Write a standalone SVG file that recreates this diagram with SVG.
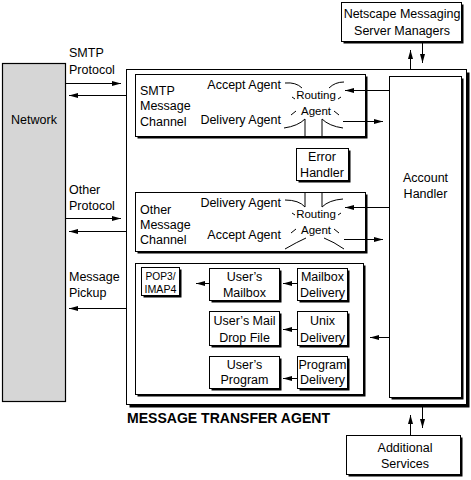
<svg xmlns="http://www.w3.org/2000/svg" width="471" height="480" viewBox="0 0 471 480">
<defs>
<style>
text{font-family:"Liberation Sans",Arial,sans-serif;font-size:12.5px;fill:#000}
.c{text-anchor:middle}
.e{text-anchor:end}
.sm{font-size:11.5px}
.xs{font-size:11px}
.title{font-weight:bold;font-size:14px}
.box{fill:#fff;stroke:#000;stroke-width:1}
.sh{fill:#000}
.net{fill:#d6d6d6;stroke:#000;stroke-width:1.2}
.ln{fill:none;stroke:#000;stroke-width:1}
.ar{fill:none;stroke:#000;stroke-width:1;marker-end:url(#ah)}
</style>
<marker id="ah" markerWidth="10" markerHeight="7" refX="9" refY="3.5" orient="auto" markerUnits="userSpaceOnUse">
<path d="M0,1 L9,3.5 L0,6 z" fill="#000"/>
</marker>
</defs>

<g id="network">
<rect class="net" x="2.5" y="63.5" width="63" height="338"/>
<text class="c" x="34" y="124">Network</text>
</g>

<g id="mta">
<rect class="sh" x="129.5" y="72.5" width="340" height="335"/>
<rect class="box" x="126.5" y="69.5" width="340" height="335"/>
<text class="title" x="127" y="423" textLength="203" lengthAdjust="spacingAndGlyphs">MESSAGE TRANSFER AGENT</text>
</g>

<g id="netscape-managers">
<rect class="sh" x="343.5" y="4.5" width="120" height="39"/>
<rect class="box" x="341.5" y="2.5" width="120" height="39"/>
<text class="c" x="402" y="18">Netscape Messaging</text>
<text class="c" x="402" y="35">Server Managers</text>
</g>

<g id="smtp-channel">
<rect class="sh" x="137.5" y="76.5" width="230" height="62"/>
<rect class="box" x="135.5" y="74.5" width="230" height="62"/>
<text x="140" y="95">SMTP</text>
<text x="140" y="110">Message</text>
<text x="140" y="126">Channel</text>
<text class="e" x="281" y="89">Accept Agent</text>
<text class="e" x="281" y="124">Delivery Agent</text>
<text class="c sm" x="316" y="99">Routing</text>
<text class="c sm" x="316" y="115">Agent</text>
<path class="ln" d="M285,83 Q296,82 302,88 M329,88 Q335,82 344,82 M292,97 L295,99 M338,99 L341,97 M291,115 L296,111 M334,111 L339,115 M284,128 Q298,126 305,119 V136 M322,136 V119 Q329,126 343,128"/>
</g>

<g id="error-handler">
<rect class="sh" x="298.5" y="150.5" width="52" height="32"/>
<rect class="box" x="296.5" y="148.5" width="52" height="32"/>
<text class="c" x="322" y="161">Error</text>
<text class="c" x="322" y="177">Handler</text>
</g>

<g id="other-channel">
<rect class="sh" x="137.5" y="194.5" width="230" height="59"/>
<rect class="box" x="135.5" y="192.5" width="230" height="59"/>
<text x="140" y="214">Other</text>
<text x="140" y="229">Message</text>
<text x="140" y="244">Channel</text>
<text class="e" x="281" y="207">Delivery Agent</text>
<text class="e" x="281" y="239">Accept Agent</text>
<text class="c sm" x="316" y="218">Routing</text>
<text class="c sm" x="316" y="234">Agent</text>
<path class="ln" d="M285,200 Q299,200 305,207 V193 M322,193 V207 Q329,200 343,199 M292,213 L295,215 M338,215 L341,213 M291,233 L296,229 M334,229 L339,233 M285,249 Q297,242 306,238 M324,238 Q334,242 344,249"/>
</g>

<g id="account-handler">
<rect class="sh" x="391.5" y="78.5" width="72" height="321"/>
<rect class="box" x="389.5" y="76.5" width="72" height="321"/>
<text class="c" x="425.5" y="182">Account</text>
<text class="c" x="425.5" y="198">Handler</text>
</g>

<g id="delivery-area">
<rect class="sh" x="137.5" y="265.5" width="228" height="131"/>
<rect class="box" x="135.5" y="263.5" width="228" height="131"/>
</g>

<g id="pop3-imap4">
<rect class="sh" x="143.5" y="269.5" width="38" height="28"/>
<rect class="box" x="141.5" y="267.5" width="38" height="28"/>
<text class="c xs" x="160.5" y="279.5" textLength="30" lengthAdjust="spacingAndGlyphs">POP3/</text>
<text class="c xs" x="160.5" y="292.5" textLength="32" lengthAdjust="spacingAndGlyphs">IMAP4</text>
</g>

<g id="users-mailbox">
<rect class="sh" x="211.5" y="270.5" width="70" height="32"/>
<rect class="box" x="209.5" y="268.5" width="70" height="32"/>
<text class="c" x="244.5" y="281">User’s</text>
<text class="c" x="244.5" y="297">Mailbox</text>
</g>

<g id="mailbox-delivery">
<rect class="sh" x="299.5" y="270.5" width="50" height="32"/>
<rect class="box" x="297.5" y="268.5" width="50" height="32"/>
<text class="c" x="322.5" y="281">Mailbox</text>
<text class="c" x="322.5" y="297">Delivery</text>
</g>

<g id="users-mail-drop-file">
<rect class="sh" x="211.5" y="313.5" width="70" height="34"/>
<rect class="box" x="209.5" y="311.5" width="70" height="34"/>
<text class="c" x="244.5" y="325">User’s Mail</text>
<text class="c" x="244.5" y="342">Drop File</text>
</g>

<g id="unix-delivery">
<rect class="sh" x="299.5" y="313.5" width="50" height="34"/>
<rect class="box" x="297.5" y="311.5" width="50" height="34"/>
<text class="c" x="322.5" y="325">Unix</text>
<text class="c" x="322.5" y="342">Delivery</text>
</g>

<g id="users-program">
<rect class="sh" x="211.5" y="358.5" width="70" height="32"/>
<rect class="box" x="209.5" y="356.5" width="70" height="32"/>
<text class="c" x="244.5" y="369">User’s</text>
<text class="c" x="244.5" y="384">Program</text>
</g>

<g id="program-delivery">
<rect class="sh" x="299.5" y="358.5" width="50" height="32"/>
<rect class="box" x="297.5" y="356.5" width="50" height="32"/>
<text class="c" x="322.5" y="369">Program</text>
<text class="c" x="322.5" y="384">Delivery</text>
</g>

<g id="additional-services">
<rect class="sh" x="348.5" y="437.5" width="114" height="39"/>
<rect class="box" x="346.5" y="435.5" width="114" height="39"/>
<text class="c" x="405" y="452">Additional</text>
<text class="c" x="405" y="468">Services</text>
</g>

<g id="labels">
<text x="69" y="57">SMTP</text>
<text x="69" y="74">Protocol</text>
<text x="69" y="194">Other</text>
<text x="69" y="210">Protocol</text>
<text x="69" y="281">Message</text>
<text x="69" y="297">Pickup</text>
</g>

<g id="connectors">
<path class="ar" d="M66,83.5 H121"/>
<path class="ar" d="M126,95.5 H69"/>
<path class="ar" d="M66,218.5 H121"/>
<path class="ar" d="M126,231.5 H69"/>
<path class="ar" d="M126,308.5 H69"/>
<path class="ar" d="M389,90.5 H345"/>
<path class="ar" d="M343,121.5 H383"/>
<path class="ar" d="M389,207.5 H345"/>
<path class="ar" d="M344,239.5 H383"/>
<path class="ar" d="M389,337.5 H370"/>
<path class="ar" d="M297,283.5 H283"/>
<path class="ar" d="M209,283.5 H196"/>
<path class="ar" d="M297,329.5 H283"/>
<path class="ar" d="M297,378.5 H283"/>
<path class="ar" d="M410.5,69 V50"/>
<path class="ar" d="M422.5,42 V63"/>
<path class="ar" d="M410.5,435 V415"/>
<path class="ar" d="M422.5,407 V428"/>
</g>
</svg>
